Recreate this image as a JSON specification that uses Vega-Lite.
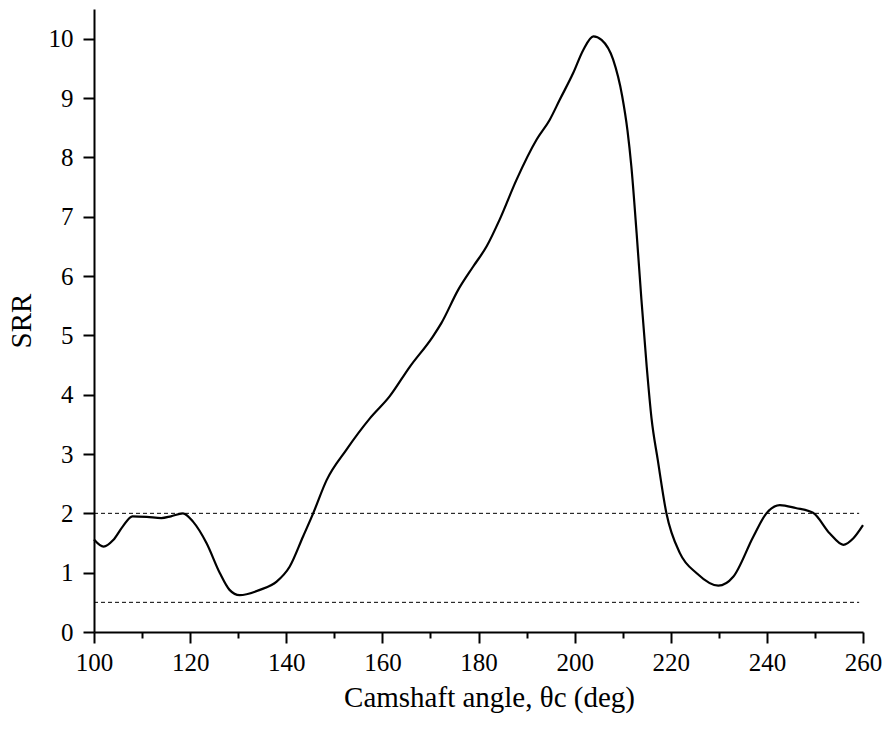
{
  "$schema": "https://vega.github.io/schema/vega-lite/v6.json",
  "autosize": "none",
  "width": 769,
  "height": 623,
  "padding": {"left": 94, "top": 9, "right": 21, "bottom": 102},
  "background": "white",
  "config": {
    "view": {"stroke": null},
    "font": "Liberation Serif",
    "axis": {
      "domainColor": "black", "domainWidth": 2, "tickColor": "black", "tickWidth": 2,
      "labelFont": "Liberation Serif", "titleFont": "Liberation Serif",
      "labelColor": "black", "titleColor": "black", "titleFontWeight": "normal",
      "labelFontSize": 25, "titleFontSize": 29, "grid": false
    }
  },
  "datasets": {
    "curve": [
      {"angle": 100, "srr": 1.56}, {"angle": 102, "srr": 1.44}, {"angle": 104, "srr": 1.55},
      {"angle": 106, "srr": 1.78}, {"angle": 108, "srr": 1.95}, {"angle": 111, "srr": 1.94},
      {"angle": 114, "srr": 1.92}, {"angle": 116, "srr": 1.95}, {"angle": 118.5, "srr": 2.0},
      {"angle": 120.6, "srr": 1.86}, {"angle": 123.4, "srr": 1.5}, {"angle": 126.2, "srr": 0.99},
      {"angle": 128.2, "srr": 0.71}, {"angle": 130.3, "srr": 0.62}, {"angle": 134.5, "srr": 0.71},
      {"angle": 138, "srr": 0.85}, {"angle": 140.7, "srr": 1.1}, {"angle": 143.5, "srr": 1.61},
      {"angle": 145.6, "srr": 2.0}, {"angle": 148.4, "srr": 2.56}, {"angle": 152.5, "srr": 3.07},
      {"angle": 157.4, "srr": 3.6}, {"angle": 161.5, "srr": 3.97}, {"angle": 165.7, "srr": 4.47},
      {"angle": 170.5, "srr": 4.98}, {"angle": 172.3, "srr": 5.21}, {"angle": 175.8, "srr": 5.77},
      {"angle": 178.9, "srr": 6.16}, {"angle": 181.7, "srr": 6.5}, {"angle": 184.4, "srr": 6.95},
      {"angle": 187.9, "srr": 7.62}, {"angle": 192.1, "srr": 8.3}, {"angle": 194.8, "srr": 8.63},
      {"angle": 196.9, "srr": 8.97}, {"angle": 199.7, "srr": 9.42}, {"angle": 201.8, "srr": 9.81},
      {"angle": 203.9, "srr": 10.04}, {"angle": 205.6, "srr": 9.98}, {"angle": 208.0, "srr": 9.65},
      {"angle": 209.9, "srr": 9.03}, {"angle": 211.0, "srr": 8.45}, {"angle": 211.8, "srr": 7.85},
      {"angle": 212.9, "srr": 6.72}, {"angle": 213.9, "srr": 5.6}, {"angle": 215.0, "srr": 4.47},
      {"angle": 216.0, "srr": 3.6}, {"angle": 217.3, "srr": 2.9}, {"angle": 219.1, "srr": 2.0},
      {"angle": 221.9, "srr": 1.33}, {"angle": 225.4, "srr": 0.99}, {"angle": 229.9, "srr": 0.78},
      {"angle": 233, "srr": 0.93}, {"angle": 237.2, "srr": 1.61}, {"angle": 239.9, "srr": 2.0},
      {"angle": 242.7, "srr": 2.14}, {"angle": 246, "srr": 2.09}, {"angle": 249.6, "srr": 2.01},
      {"angle": 253.1, "srr": 1.66}, {"angle": 255.9, "srr": 1.47}, {"angle": 258, "srr": 1.58},
      {"angle": 260, "srr": 1.8}
    ],
    "refs": [{"level": 2}, {"level": 0.5}]
  },
  "layer": [
    {
      "data": {"name": "refs"},
      "mark": {"type": "rule", "color": "black", "strokeWidth": 1, "strokeDash": [4, 3]},
      "encoding": {
        "y": {"field": "level", "type": "quantitative", "scale": {"domain": [0, 10.5], "nice": false}},
        "x": {"datum": 100, "type": "quantitative", "scale": {"domain": [100, 260], "nice": false}},
        "x2": {"datum": 259.2}
      }
    },
    {
      "data": {"name": "curve"},
      "mark": {"type": "line", "color": "black", "strokeWidth": 2.2, "interpolate": "monotone"},
      "encoding": {
        "x": {
          "field": "angle", "type": "quantitative",
          "scale": {"domain": [100, 260], "nice": false},
          "axis": {
            "title": "Camshaft angle, θc (deg)",
            "titleX": 395,
            "values": [100,105,110,115,120,125,130,135,140,145,150,155,160,165,170,175,180,185,190,195,200,205,210,215,220,225,230,235,240,245,250,255,260],
            "labelExpr": "datum.value % 20 == 0 ? format(datum.value, 'd') : ''",
            "tickSize": {"expr": "datum.value % 20 == 0 ? 11 : 6"},
            "labelPadding": 7, "titlePadding": 8, "labelFlush": false
          }
        },
        "y": {
          "field": "srr", "type": "quantitative",
          "scale": {"domain": [0, 10.5], "nice": false},
          "axis": {
            "title": "SRR",
            "values": [0,0.5,1,1.5,2,2.5,3,3.5,4,4.5,5,5.5,6,6.5,7,7.5,8,8.5,9,9.5,10,10.5],
            "labelExpr": "datum.value % 1 == 0 ? format(datum.value, 'd') : ''",
            "tickSize": {"expr": "datum.value % 1 == 0 ? 11 : 6"},
            "labelPadding": 10, "titlePadding": 12, "labelFlush": false
          }
        }
      }
    }
  ]
}
